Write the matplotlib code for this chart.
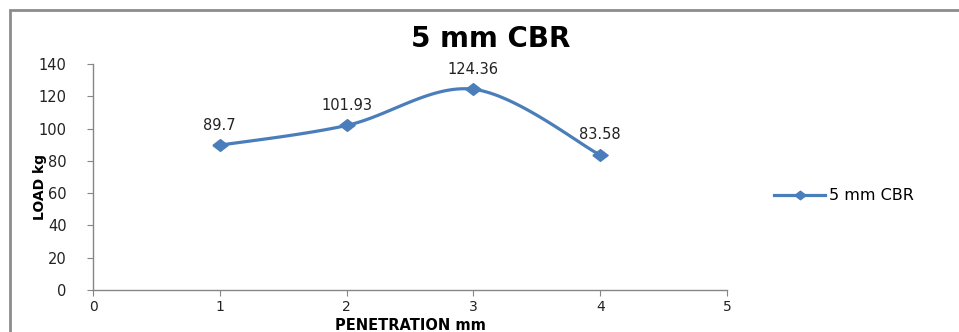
import numpy as np
import matplotlib.pyplot as plt
from matplotlib.patches import Rectangle

# CBR test, 5 mm penetration
penetration = [1, 2, 3, 4]
load = [89.7, 101.93, 124.36, 83.58]
point_labels = ["89.7", "101.93", "124.36", "83.58"]
series_name = "5 mm CBR"

line_color = "#4A7EBB"
axis_color = "#868686"

plt.rcParams['font.family'] = ['DejaVu Sans']

# slightly wide diamond marker
diamond = [(-1.3, 0), (0, 1), (1.3, 0), (0, -1), (-1.3, 0)]


def smooth_curve(x, y, steps=40):
    """Bezier smoothing through every point, like a spreadsheet 'smoothed line'."""
    x = np.asarray(x, float)
    y = np.asarray(y, float)
    px = np.concatenate([[x[0]], x, [x[-1]]])
    py = np.concatenate([[y[0]], y, [y[-1]]])
    xs, ys = [], []
    t = np.linspace(0, 1, steps)
    for i in range(1, len(px) - 2):
        p0 = np.array([px[i], py[i]])
        p3 = np.array([px[i + 1], py[i + 1]])
        p1 = p0 + (np.array([px[i + 1], py[i + 1]]) - np.array([px[i - 1], py[i - 1]])) / 6
        p2 = p3 - (np.array([px[i + 2], py[i + 2]]) - np.array([px[i], py[i]])) / 6
        b = ((1 - t) ** 3)[:, None] * p0 + (3 * (1 - t) ** 2 * t)[:, None] * p1 \
            + (3 * (1 - t) * t ** 2)[:, None] * p2 + (t ** 3)[:, None] * p3
        xs.extend(b[:, 0])
        ys.extend(b[:, 1])
    return np.array(xs), np.array(ys)


fig = plt.figure(figsize=(9.59, 3.32), dpi=100)
ax = fig.add_axes([93 / 959, 1 - 290 / 332, (727 - 93) / 959, (290 - 64) / 332])

sx, sy = smooth_curve(penetration, load)
ax.plot(sx, sy, color=line_color, linewidth=2.3, zorder=2)
ax.plot(penetration, load, linestyle='none', marker=diamond, markersize=11,
        color=line_color, zorder=3)
# legend proxy
ax.plot([], [], color=line_color, linewidth=2.3, marker=diamond, markersize=8,
        label=series_name)

for x, y, txt in zip(penetration, load, point_labels):
    ax.annotate(txt, (x, y), xytext=(0, 14.5), textcoords='offset points',
                ha='center', va='center', fontsize=10.5, color='#222222')

ax.set_xlim(0, 5)
ax.set_ylim(0, 140)
ax.set_xticks(range(0, 6))
ax.set_yticks(range(0, 141, 20))

for side in ['top', 'right']:
    ax.spines[side].set_visible(False)
for side in ['left', 'bottom']:
    ax.spines[side].set_color(axis_color)
    ax.spines[side].set_linewidth(1)
ax.tick_params(direction='out', length=4, color=axis_color, labelsize=10.5,
               labelcolor='#222222')
ax.tick_params(axis='x', pad=3, labelsize=10)
ax.tick_params(axis='y', pad=15)

fig.text(491 / 959, 1 - 39 / 332, "5 mm CBR", ha='center', va='center',
         fontsize=20, fontweight='bold')
fig.text(40 / 959, 1 - 187 / 332, "LOAD kg", ha='center', va='center',
         rotation=90, fontsize=10, fontweight='bold')
fig.text(410 / 959, 1 - 330.5 / 332, "PENETRATION mm", ha='center',
         va='baseline', fontsize=10.5, fontweight='bold')

fig.legend(loc='center left', bbox_to_anchor=(774 / 959, 1 - 196 / 332),
           frameon=False, fontsize=11.5, handlelength=3.2, handletextpad=0.25,
           borderaxespad=0, borderpad=0)

# chart area border
fig.patches.append(Rectangle((10 / 959, -0.2), 1.0, 1 - 10 / 332 + 0.2,
                             transform=fig.transFigure, fill=False,
                             edgecolor='#8C8C8C', linewidth=2))

fig.savefig("out.png", dpi=100)
